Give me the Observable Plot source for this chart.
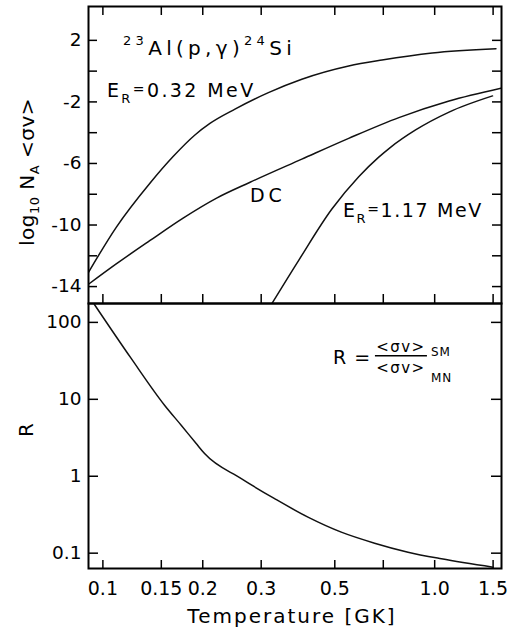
<!DOCTYPE html>
<html>
<head>
<meta charset="utf-8">
<script src="https://cdn.jsdelivr.net/npm/d3@7"></script>
<script src="https://cdn.jsdelivr.net/npm/@observablehq/plot@0.6"></script>
<style>
  html, body { margin: 0; padding: 0; background: #fff; }
  #chart { width: 510px; height: 632px; position: relative; }
  #chart svg { display: block; }
</style>
</head>
<body>
<div id="chart"></div>
<script>
// ---- tick values and labels ----
const xTickValues = [0.1, 0.15, 0.2, 0.3, 0.5, 0.7, 1.0, 1.5];
const xTickLabels = ["0.1", "0.15", "0.2", "0.3", "0.5", "0.7", "1.0", "1.5"];
const rateTickMarks = [2, 0, -2, -4, -6, -8, -10, -12, -14];
const rateTickLabels = [2, -2, -6, -10, -14];
const ratioTickValues = [0.1, 1, 10, 100];
const ratioTickLabels = ["0.1", "1", "10", "100"];

// ---- series: E_R = 0.32 MeV resonance (log10 NA<sv>) ----
const tempRes032 = [0.0905, 0.1097, 0.1384, 0.1628, 0.1894, 0.2102, 0.2501, 0.3154, 0.3977, 0.5506, 0.694, 0.983, 1.53];
const rateRes032 = [-13.07, -10.15, -7.30, -5.55, -4.15, -3.40, -2.47, -1.40, -0.53, 0.33, 0.72, 1.18, 1.455];

// ---- series: direct capture (DC) ----
const tempDC = [0.0905, 0.1097, 0.1384, 0.1745, 0.2202, 0.2778, 0.3977, 0.5506, 0.780, 1.105, 1.584];
const rateDC = [-13.85, -12.53, -11.02, -9.55, -8.25, -7.22, -5.72, -4.37, -3.02, -1.94, -1.11];

// ---- series: E_R = 1.17 MeV resonance ----
const tempRes117 = [0.3228, 0.3888, 0.490, 0.5903, 0.6784, 0.736, 0.876, 1.105, 1.494];
const rateRes117 = [-15.12, -12.31, -8.96, -6.86, -5.59, -4.95, -3.82, -2.66, -1.61];

// ---- series: ratio R = <sv>SM / <sv>MN ----
const tempRatio = [0.0943, 0.1217, 0.1534, 0.1722, 0.1911, 0.2025, 0.2613, 0.3293, 0.415, 0.523, 0.659, 0.831, 1.048, 1.50];
const ratioValues = [171, 34.0, 8.38, 4.60, 2.66, 1.97, 0.931, 0.511, 0.294, 0.1876, 0.1349, 0.103, 0.0845, 0.0658];

// ---- scale domains ----
const xDomain = [0.0905, 1.59];
const rateDomain = [-15.1, 4.2];
const ratioDomain = [0.0632, 176];

const toRows = (xs, ys) => xs.map((x, i) => ({x, y: ys[i]}));
const FONT = "DejaVu Sans";
const W = 510, ML = 88, MR = 9;
const innerW = W - ML - MR;

// ---------------- TOP PANEL ----------------
const topH = 303, topMT = 6, topMB = 0;
const topInnerH = topH - topMT - topMB;
const tick = 9;
const lineStyle = {x: "x", y: "y", curve: "monotone-x", stroke: "#111", strokeWidth: 1.5, clip: true};

const topPlot = Plot.plot({
  width: W, height: topH,
  marginLeft: ML, marginRight: MR, marginTop: topMT, marginBottom: topMB,
  style: {fontFamily: FONT, fontSize: "18.5px", color: "#000", background: "#fff", overflow: "visible"},
  x: {type: "log", domain: xDomain, axis: null},
  y: {domain: rateDomain},
  marks: [
    Plot.tickX(xTickValues, {x: d => d, insetTop: topInnerH - tick, stroke: "#000", strokeWidth: 1.5}),
    Plot.tickX(xTickValues, {x: d => d, insetBottom: topInnerH - tick, stroke: "#000", strokeWidth: 1.5}),
    Plot.tickY(rateTickMarks, {y: d => d, insetRight: innerW - tick, stroke: "#000", strokeWidth: 1.5}),
    Plot.tickY(rateTickMarks, {y: d => d, insetLeft: innerW - tick, stroke: "#000", strokeWidth: 1.5}),
    Plot.axisY(rateTickLabels, {tickSize: 0, tickPadding: 7, label: null, fontSize: 18.5,
      tickFormat: d => d < 0 ? "-" + Math.abs(d) : String(d)}),
    Plot.line(toRows(tempRes032, rateRes032), lineStyle),
    Plot.line(toRows(tempDC, rateDC), lineStyle),
    Plot.line(toRows(tempRes117, rateRes117), lineStyle),
    Plot.frame({stroke: "#000", strokeWidth: 2})
  ]
});

// ---------------- BOTTOM PANEL ----------------
const botH = 329, botMT = 0, botMB = 64;
const botInnerH = botH - botMT - botMB;

const botPlot = Plot.plot({
  width: W, height: botH,
  marginLeft: ML, marginRight: MR, marginTop: botMT, marginBottom: botMB,
  style: {fontFamily: FONT, fontSize: "18.5px", color: "#000", background: "#fff", overflow: "visible"},
  x: {type: "log", domain: xDomain},
  y: {type: "log", domain: ratioDomain},
  marks: [
    Plot.tickX(xTickValues, {x: d => d, insetTop: botInnerH - 8, stroke: "#000", strokeWidth: 1.5}),
    Plot.tickY(ratioTickValues, {y: d => d, insetRight: innerW - 10, stroke: "#000", strokeWidth: 1.5}),
    Plot.tickY(ratioTickValues, {y: d => d, insetLeft: innerW - 10, stroke: "#000", strokeWidth: 1.5}),
    Plot.axisX(xTickValues, {tickSize: 0, tickPadding: 13, label: null, fontSize: 19,
      tickFormat: d => xTickLabels[xTickValues.indexOf(d)]}),
    Plot.axisY(ratioTickValues, {tickSize: 0, tickPadding: 7, label: null, fontSize: 18.5,
      tickFormat: d => ratioTickLabels[ratioTickValues.indexOf(d)]}),
    Plot.line(toRows(tempRatio, ratioValues), lineStyle),
    Plot.frame({stroke: "#000", strokeWidth: 2})
  ]
});

const chart = document.getElementById("chart");
chart.appendChild(topPlot);
chart.appendChild(botPlot);

// ---------------- annotations ----------------
function addText(svg, x, y, parts, opts = {}) {
  const t = d3.select(svg).append("text")
    .attr("x", x).attr("y", y)
    .attr("font-family", FONT)
    .attr("fill", "#000")
    .attr("text-anchor", opts.anchor || "start")
    .attr("letter-spacing", opts.spacing || 0);
  if (opts.transform) t.attr("transform", opts.transform).attr("x", 0).attr("y", 0);
  for (const p of parts) {
    t.append("tspan").attr("font-size", p.size).attr("dy", p.dy || 0).text(p.t);
  }
  return t;
}

const tx = topPlot.scale("x"), ty = topPlot.scale("y");
const bx = botPlot.scale("x"), by = botPlot.scale("y");

// title
addText(topPlot, tx.apply(0.1154), ty.apply(1.02), [
  {t: "23", size: 13, dy: -10},
  {t: "Al(p,γ)", size: 20, dy: 10},
  {t: "24", size: 13, dy: -10},
  {t: "Si", size: 20, dy: 10}
], {spacing: 4.3});

// E_R = 0.32 MeV
addText(topPlot, tx.apply(0.1032), ty.apply(-1.69), [
  {t: "E", size: 19},
  {t: "R", size: 13, dy: 6},
  {t: "=", size: 14, dy: -9},
  {t: "0.32 MeV", size: 19, dy: 3}
], {spacing: 2.4});

// DC
addText(topPlot, tx.apply(0.2785), ty.apply(-8.52), [{t: "DC", size: 19}], {spacing: 4});

// E_R = 1.17 MeV
addText(topPlot, tx.apply(0.531), ty.apply(-9.49), [
  {t: "E", size: 19},
  {t: "R", size: 13, dy: 6},
  {t: "=", size: 14, dy: -9},
  {t: "1.17 MeV", size: 19, dy: 3}
], {spacing: 1.6});

// y label top
addText(topPlot, 0, 0, [
  {t: "log", size: 20},
  {t: "10", size: 13, dy: 5},
  {t: " N", size: 20, dy: -5},
  {t: "A", size: 13, dy: 5},
  {t: " <σv>", size: 20, dy: -5}
], {anchor: "middle", transform: "translate(33.5,172) rotate(-90)", spacing: 0.5});

// y label bottom
addText(botPlot, 0, 0, [{t: "R", size: 20}], {anchor: "middle", transform: "translate(33,127) rotate(-90)"});

// x label
addText(botPlot, 292, 320, [{t: "Temperature [GK]", size: 20}], {anchor: "middle", spacing: 2});

// R = <sv>SM / <sv>MN
const fx = bx.apply(0.794), fy = by.apply(36.4);
addText(botPlot, bx.apply(0.4955), by.apply(28.3), [{t: "R =", size: 19}], {spacing: 1});
d3.select(botPlot).append("line")
  .attr("x1", fx - 26).attr("x2", fx + 26).attr("y1", fy).attr("y2", fy)
  .attr("stroke", "#000").attr("stroke-width", 1.5);
addText(botPlot, fx, fy - 4, [{t: "<σv>", size: 15}], {anchor: "middle", spacing: 1.5});
addText(botPlot, fx + 30, fy, [{t: "SM", size: 12}], {spacing: 1});
addText(botPlot, fx, fy + 17, [{t: "<σv>", size: 15}], {anchor: "middle", spacing: 1.5});
addText(botPlot, fx + 30, fy + 26, [{t: "MN", size: 12}], {spacing: 1});
</script>
</body>
</html>
